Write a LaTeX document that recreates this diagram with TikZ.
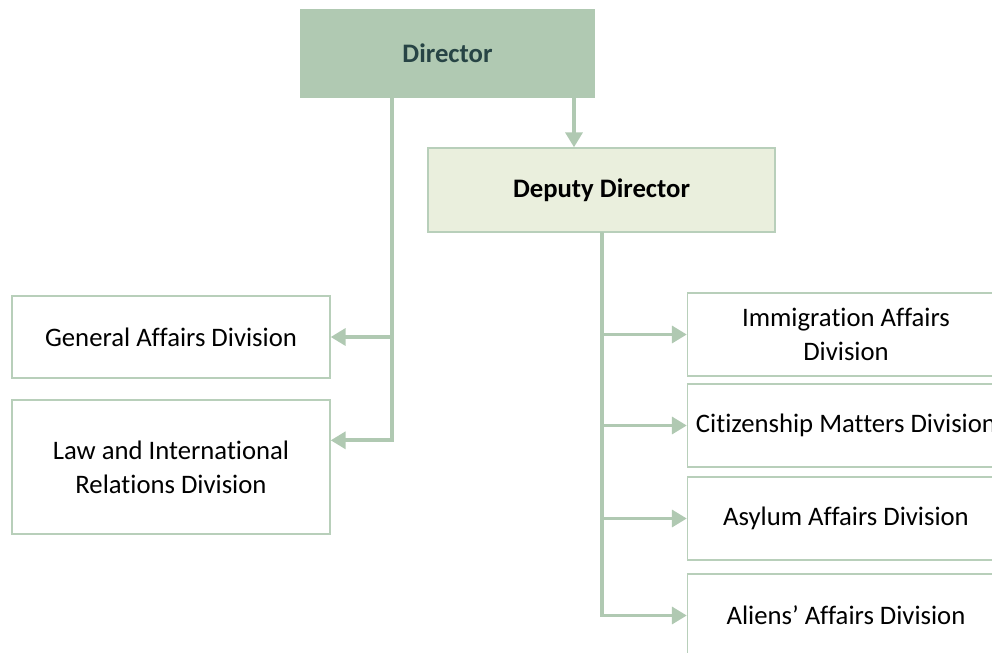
\documentclass[tikz,border=0pt]{standalone}
\usepackage{fontspec}
\setmainfont{Carlito}[Ligatures=CommonOff]
\usetikzlibrary{arrows.meta}
\definecolor{sage}{RGB}{176,201,178}
\definecolor{sageline}{RGB}{184,207,186}
\definecolor{paleleaf}{RGB}{234,239,221}
\definecolor{slate}{RGB}{39,68,69}

\begin{document}
\begin{tikzpicture}[x=0.02cm,y=-0.02cm,
    unit/.style={draw=sageline,line width=0.8pt,fill=white,inner sep=0pt,
      minimum width=6.34cm,minimum height=1.66cm,align=center,
      font=\fontsize{15.2}{19.5}\selectfont},
    chief/.style={unit,fill=sage,draw=sage,text=slate,font=\fontsize{15.2}{19.5}\selectfont\bfseries},
    deputy/.style={unit,fill=paleleaf,font=\fontsize{15.2}{19.5}\selectfont\bfseries},
    link/.style={draw=sage,line width=2.1pt,-{Triangle[length=8.5pt,width=9.6pt]}}]
          \clip (0,0) rectangle (992,653);
          \node[chief,minimum width=5.86cm,minimum height=1.74cm] (dir) at (447.5,53.5) {Director};
          \node[deputy,minimum width=6.94cm,minimum height=1.68cm] (dep) at (601.5,190) {Deputy Director};
          \node[unit,minimum width=6.36cm,minimum height=1.64cm] (gen) at (171,337) {General Affairs Division};
          \node[unit,minimum width=6.36cm,minimum height=2.68cm] (law) at (171,467) {Law and International\\Relations Division};
          \node[unit] (imm) at (846,334.5) {Immigration Affairs\\Division};
          \node[unit] (cit) at (846,425.5) {Citizenship Matters Division};
          \node[unit] (asy) at (846,518.5) {Asylum Affairs Division};
          \node[unit] (ali) at (846,615.5) {Aliens’ Affairs Division};
          \coordinate (dtap) at (574,97);
          \coordinate (ltop) at (392,97);
          \coordinate (rtop) at (602,232);
          \draw[link] (dtap) -- (dtap |- dep.north);
          \draw[link] (ltop) |- ([yshift=-0.82cm]law.north east);
          \draw[link] (ltop |- gen.east) -- (gen.east);
          \draw[link] (rtop) |- (ali.west);
          \foreach \n in {imm,cit,asy}
            \draw[link] (rtop |- \n.west) -- (\n.west);
        \end{tikzpicture}
\end{document}
